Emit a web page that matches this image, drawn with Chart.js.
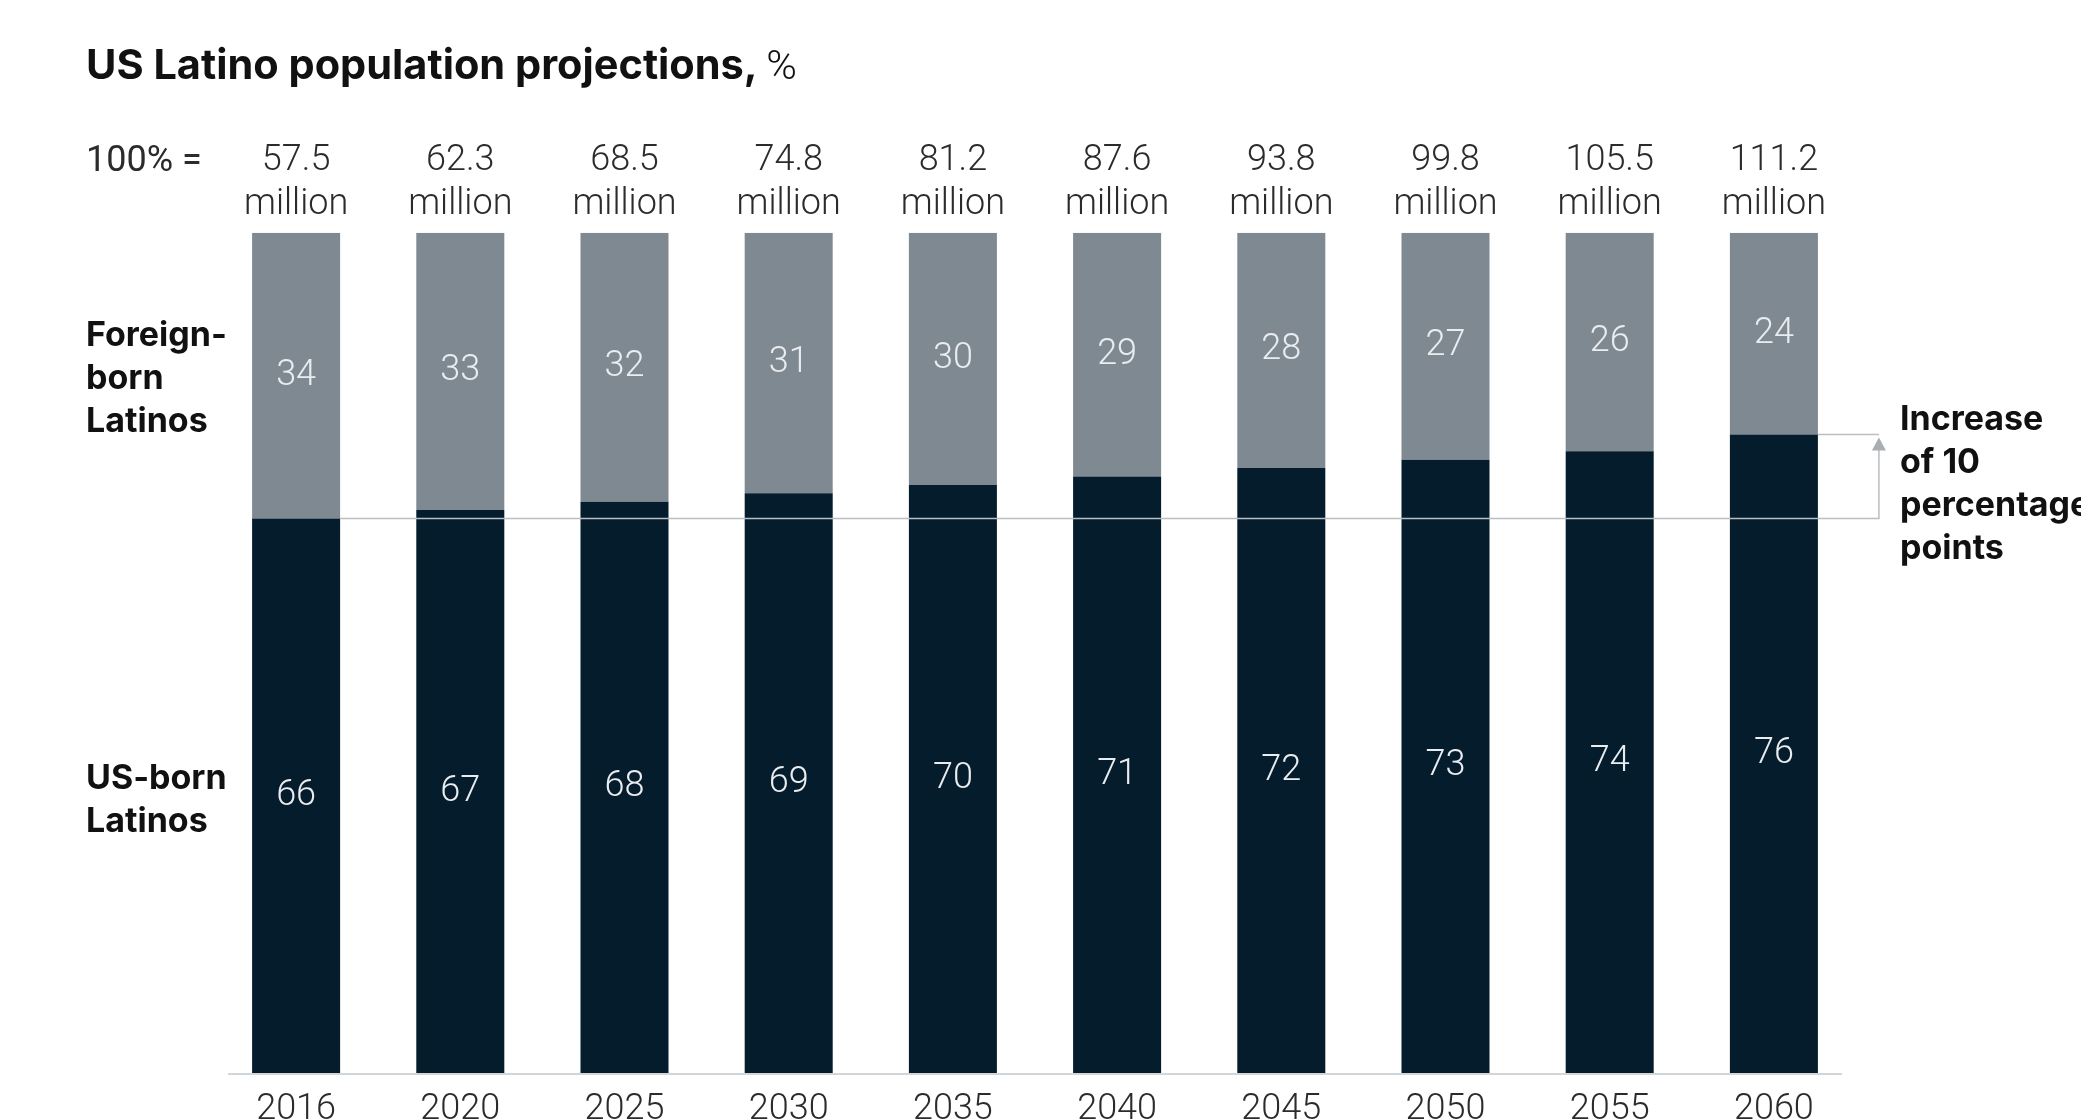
<!DOCTYPE html>
<html>
<head>
<meta charset="utf-8">
<script src="https://cdn.jsdelivr.net/npm/chart.js@4/dist/chart.umd.min.js"></script>
<style>
  html, body { margin: 0; padding: 0; width: 2081px; height: 1120px; overflow: hidden; background: #fff; }
  #wrap { position: relative; width: 2081px; height: 1180px; }
  canvas { position: absolute; left: 0; top: 0; }
  .txt { position: absolute; color: #111; white-space: nowrap; }
  .bold { font-family: Inter, "DejaVu Sans", sans-serif; font-weight: 700; font-size: 34px; line-height: 43px; }
  .light { font-family: Roboto, "Liberation Sans", sans-serif; font-weight: 400; font-size: 36px; line-height: 44px; color: #2b2b2b; }
  #title { left: 86px; top: 40px; font-family: Inter, "DejaVu Sans", sans-serif; font-weight: 700; font-size: 41.5px; line-height: 48px; }
  #title span { font-family: Roboto, sans-serif; font-weight: 300; }
</style>
</head>
<body>
<div id="wrap">
  <canvas id="chart" width="2081" height="1180"></canvas>
  <div id="title" class="txt">US Latino population projections, <span>%</span></div>
  <div class="txt light" style="left:86px; top:137px;">100% =</div>
  <div class="txt bold" style="left:86px; top:312px;">Foreign-<br>born<br>Latinos</div>
  <div class="txt bold" style="left:86px; top:755px;">US-born<br>Latinos</div>
  <div class="txt bold" style="left:1900px; top:396px;">Increase<br>of 10<br>percentage<br>points</div>
</div>
<script>
const years = ["2016", "2020", "2025", "2030", "2035", "2040", "2045", "2050", "2055", "2060"];
const totals = ["57.5", "62.3", "68.5", "74.8", "81.2", "87.6", "93.8", "99.8", "105.5", "111.2"];
const usBorn = [66, 67, 68, 69, 70, 71, 72, 73, 74, 76];
const foreignBorn = [34, 33, 32, 31, 30, 29, 28, 27, 26, 24];

const DARK = "#051c2c";
const GREY = "#7f8992";
const LINE = "#b9bec2";

const lightFont = { family: "Roboto, 'Liberation Sans', sans-serif", size: 36, weight: "300", lineHeight: 1.22 };

// values written in the middle of every segment
const segmentLabels = {
  id: "segmentLabels",
  afterDatasetsDraw(chart) {
    const ctx = chart.ctx;
    ctx.save();
    ctx.font = "300 36px Roboto, 'Liberation Sans', sans-serif";
    ctx.fillStyle = "#e9edf0";
    ctx.textAlign = "center";
    ctx.textBaseline = "middle";
    chart.data.datasets.forEach((ds, di) => {
      chart.getDatasetMeta(di).data.forEach((bar, i) => {
        const p = bar.getProps(["x", "y", "base"], true);
        ctx.fillText(String(ds.data[i]), p.x, (p.y + p.base) / 2);
      });
    });
    ctx.restore();
  },
};

// thin baseline under the bars, a little wider than the outer bars
const baseAxis = {
  id: "baseAxis",
  beforeDatasetsDraw(chart) {
    const ctx = chart.ctx;
    const bars = chart.getDatasetMeta(0).data;
    const first = bars[0];
    const last = bars[bars.length - 1];
    const y = chart.chartArea.bottom + 1;
    ctx.save();
    ctx.strokeStyle = "#d3d6d9";
    ctx.lineWidth = 2;
    ctx.beginPath();
    ctx.moveTo(first.x - first.width / 2 - 24, y);
    ctx.lineTo(last.x + last.width / 2 + 24, y);
    ctx.stroke();
    ctx.restore();
  },
};

// baseline at the 2016 share and the bracket up to the 2060 share
const increaseBracket = {
  id: "increaseBracket",
  afterDatasetsDraw(chart) {
    const ctx = chart.ctx;
    const y = chart.scales.y;
    const bars = chart.getDatasetMeta(0).data;
    const first = bars[0];
    const last = bars[bars.length - 1];
    const baseY = y.getPixelForValue(usBorn[0]);
    const topY = y.getPixelForValue(usBorn[usBorn.length - 1]);
    const lastRight = last.x + last.width / 2;
    const bx = lastRight + 61;

    ctx.save();
    ctx.strokeStyle = LINE;
    ctx.lineWidth = 1.5;
    ctx.beginPath();
    ctx.moveTo(first.x + first.width / 2, baseY);
    ctx.lineTo(bx, baseY);
    ctx.lineTo(bx, topY + 12);
    ctx.moveTo(lastRight, topY);
    ctx.lineTo(bx, topY);
    ctx.stroke();

    ctx.fillStyle = "#a9aeb2";
    ctx.beginPath();
    ctx.moveTo(bx, topY + 3);
    ctx.lineTo(bx - 7, topY + 16);
    ctx.lineTo(bx + 7, topY + 16);
    ctx.closePath();
    ctx.fill();
    ctx.restore();
  },
};

new Chart(document.getElementById("chart"), {
  type: "bar",
  data: {
    labels: years,
    datasets: [
      { label: "US-born Latinos", data: usBorn, backgroundColor: DARK, categoryPercentage: 1, barPercentage: 0.536 },
      { label: "Foreign-born Latinos", data: foreignBorn, backgroundColor: GREY, categoryPercentage: 1, barPercentage: 0.536 },
    ],
  },
  options: {
    responsive: false,
    animation: false,
    layout: { padding: { left: 214, right: 225, top: 133, bottom: 33 } },
    plugins: { legend: { display: false }, tooltip: { enabled: false } },
    scales: {
      x: {
        stacked: true,
        grid: { display: false, drawTicks: false },
        border: { display: false },
        ticks: { color: "#2b2b2b", font: lightFont, padding: 15, autoSkip: false, maxRotation: 0 },
      },
      x2: {
        type: "category",
        position: "top",
        labels: totals.map((t) => [t, "million"]),
        offset: true,
        grid: { display: false, drawTicks: false },
        border: { display: false },
        ticks: { color: "#2b2b2b", font: lightFont, padding: 6, autoSkip: false, maxRotation: 0 },
      },
      y: { stacked: true, display: false, min: 0, max: 100 },
    },
  },
  plugins: [baseAxis, segmentLabels, increaseBracket],
});
</script>
</body>
</html>
